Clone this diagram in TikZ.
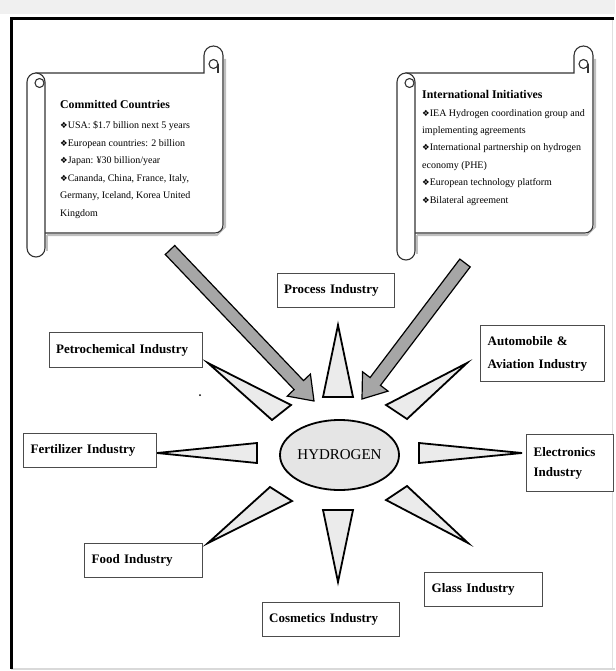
\documentclass[tikz,border=0pt]{standalone}
\usepackage{fontspec}
\setmainfont{Liberation Serif}
\newfontfamily\symfont{DejaVu Sans}
\usetikzlibrary{calc,shapes.geometric}
\newcommand\bul{{\symfont\fontsize{8.5}{8.5}\selectfont\char"2756}}
\tikzset{
  ind/.style={draw=black!70, line width=1.3pt, fill=white, anchor=north west,
    inner xsep=6.5pt, inner ysep=0pt, align=left,
    font=\fontsize{13}{15}\selectfont\bfseries},
  spike/.style={draw=black, line width=1.8pt, fill=black!8, line join=miter},
  bigarrow/.style={draw=black, line width=1.2pt, fill=black!35, line join=miter},
  scrollline/.style={draw=black!80, line width=1.1pt, fill=white},
  scrollshadow/.style={draw=black!25, line width=2pt},
  stitle/.style={anchor=north west, inner sep=0pt, font=\fontsize{11.8}{14}\selectfont\bfseries},
  sbody/.style={anchor=north west, inner sep=0pt, align=left},
}
% #1 x0, #2 x1, #3 body top, #4 body bottom, #5 tube bottom
\newcommand\myscroll[5]{%
  \draw[scrollshadow] ({#2+2},{#3-14}) -- ({#2+2},{#4-6}) -- ({#2-6},{#4+2}) -- ({#1+20},{#4+2});
  \draw[scrollshadow] ({#1+20},{#4+2}) -- ({#1+20},{#5-6});
  \draw[scrollline] ({#1+9},#3) -- ({#2-19},#3) -- ({#2-19},{#3-17.5})
     arc[start angle=180, end angle=360, radius=9.5] -- (#2,{#4-8})
     arc[start angle=0, end angle=90, radius=8] -- ({#1+9},#4) -- cycle;
  \draw[scrollline, rounded corners=9pt] (#1,#3) rectangle ({#1+18},#5);
  \draw[scrollline] ({#1+12.5},{#3+10}) circle (4.5pt);
  \draw[scrollline] ({#2-9.5},{#3-9}) circle (4.5pt);
  \draw[black!80, line width=1.1pt] ({#2-5},{#3-9}) -- ({#2-5},#3);
}
\begin{document}
\begin{tikzpicture}[x=1pt, y=-1pt]
\useasboundingbox (0,0) rectangle (615,671);
% frame
\fill[black!6] (0,0) rectangle (615,14);
\draw[black!15, line width=1.5pt] (11,669) -- (615,669);
\draw[black!12, line width=1pt] (612,20) -- (612,668);
\draw[line width=2.8pt] (10,18.5) -- (614,18.5);
\draw[line width=2.8pt] (11.5,17) -- (11.5,669);

% scrolls
\myscroll{27}{223}{73}{233}{257}
\myscroll{397}{593}{73}{233}{260}

\node[stitle] (cct) at (60,100) {Committed Countries};
\node[sbody, font=\fontsize{10}{17.6}\selectfont] (ccb) at (60,121) {\bul USA: \$1.7 billion next 5 years\\
\bul European countries: 2 billion\\
\bul Japan: ¥30 billion/year\\
\bul Cananda, China, France, Italy,\\
Germany, Iceland, Korea United\\
Kingdom};

\node[stitle] (iit) at (422,90) {International Initiatives};
\node[sbody, font=\fontsize{10}{17.4}\selectfont] (iib) at (422,109) {\bul IEA Hydrogen coordination group and\\
implementing agreements\\
\bul International partnership on hydrogen\\
economy (PHE)\\
\bul European technology platform\\
\bul Bilateral agreement};

% big arrows
\coordinate (lt) at (170,250);
\coordinate (lp) at (314,401);
\coordinate (rt) at (465,263);
\coordinate (rp) at (362,399);
\coordinate (lh) at ($(lp)!22pt!(lt)$);
\coordinate (rh) at ($(rp)!22pt!(rt)$);
\draw[bigarrow] ($(lt)!6.5pt!90:(lp)$) -- ($(lh)!6.5pt!-90:(lt)$) -- ($(lh)!16pt!-90:(lt)$) -- (lp)
  -- ($(lh)!16pt!90:(lt)$) -- ($(lh)!6.5pt!90:(lt)$) -- ($(lt)!6.5pt!-90:(lp)$) -- cycle;
\draw[bigarrow] ($(rt)!6.5pt!90:(rp)$) -- ($(rh)!6.5pt!-90:(rt)$) -- ($(rh)!16pt!-90:(rt)$) -- (rp)
  -- ($(rh)!16pt!90:(rt)$) -- ($(rh)!6.5pt!90:(rt)$) -- ($(rt)!6.5pt!-90:(rp)$) -- cycle;

% spikes
\draw[spike] (323,397) -- (353,397) -- (338,325) -- cycle;
\draw[spike] (386,405) -- (407,419) -- (467,363) -- cycle;
\draw[spike] (419,443) -- (419,463) -- (522,453) -- cycle;
\draw[spike] (386,500) -- (407,486) -- (468,543) -- cycle;
\draw[spike] (323,510) -- (353,510) -- (338,582) -- cycle;
\draw[spike] (270,487) -- (292,501) -- (208,543) -- cycle;
\draw[spike] (257,443) -- (257,463) -- (157,453) -- cycle;
\draw[spike] (272,420) -- (291,405) -- (208,363) -- cycle;

% hydrogen
\node[ellipse, draw=black, line width=1.8pt, fill=black!10, minimum width=104pt,
  minimum height=70pt, inner sep=0pt, font=\fontsize{15}{15}\selectfont] (h2) at (339.5,455) {HYDROGEN};

\fill (200,395) circle (1pt);

% industry boxes
\node[ind, minimum height=34pt, text width=104pt] (proc) at (277,273) {Process Industry};
\node[ind, minimum height=35pt, text width=140pt] (petro) at (49,332) {Petrochemical Industry};
\node[ind, minimum height=56pt, text width=110pt, inner xsep=7pt, font=\fontsize{13}{23}\selectfont\bfseries] (auto) at (480,325) {Automobile \&\\Aviation Industry};
\node[ind, minimum height=34pt, text width=119pt, inner xsep=7pt] (fert) at (23,433) {Fertilizer Industry};
\node[ind, minimum height=57pt, text width=73pt, inner xsep=7pt, font=\fontsize{13}{20}\selectfont\bfseries] (elec) at (526,434) {Electronics\\Industry};
\node[ind, minimum height=34pt, text width=104pt, inner xsep=7pt] (food) at (84,543) {Food Industry};
\node[ind, minimum height=34pt, text width=124pt] (cosm) at (262,602) {Cosmetics Industry};
\node[ind, minimum height=34pt, text width=104pt, inner xsep=7pt] (glass) at (424,572) {Glass Industry};
\end{tikzpicture}
\end{document}
